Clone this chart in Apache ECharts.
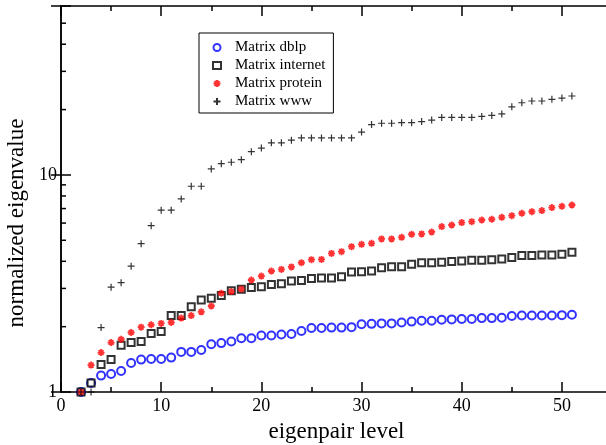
<!DOCTYPE html>
<html>
<head>
<meta charset="utf-8">
<script src="https://cdn.jsdelivr.net/npm/echarts@6/dist/echarts.min.js"></script>
<style>
  html, body { margin: 0; padding: 0; background: #fff; }
  #chart { width: 606px; height: 445px; }
</style>
</head>
<body>
<div id="chart"></div>
<script>
// eigenpair levels
var levels = [2,3,4,5,6,7,8,9,10,11,12,13,14,15,16,17,18,19,20,21,22,23,24,25,26,
    27,28,29,30,31,32,33,34,35,36,37,38,39,40,41,42,43,44,45,46,47,48,49,50,51];

var dblp = [1.00,1.10,1.19,1.21,1.25,1.36,1.41,1.42,1.42,1.44,1.53,1.53,1.56,1.66,1.68,1.71,
    1.77,1.77,1.82,1.82,1.84,1.85,1.91,1.97,1.97,1.98,1.98,1.99,2.05,2.06,2.07,2.07,2.09,
    2.11,2.13,2.13,2.15,2.16,2.17,2.17,2.19,2.19,2.20,2.24,2.25,2.25,2.25,2.25,2.26,2.27];

var internet = [1.00,1.10,1.34,1.41,1.64,1.69,1.71,1.86,1.90,2.25,2.25,2.47,2.65,2.70,2.78,
    2.93,2.97,3.03,3.05,3.13,3.15,3.25,3.26,3.33,3.35,3.35,3.40,3.57,3.58,3.61,3.74,3.78,
    3.78,3.88,3.94,3.94,3.96,3.99,4.01,4.04,4.04,4.07,4.10,4.17,4.25,4.25,4.28,4.28,4.31,4.40];

var protein = [1.00,1.33,1.52,1.69,1.75,1.88,1.99,2.04,2.07,2.09,2.19,2.25,2.34,2.49,2.85,
    2.90,2.98,3.28,3.42,3.61,3.67,3.77,3.94,4.07,4.08,4.35,4.43,4.67,4.79,4.84,5.07,5.07,
    5.16,5.33,5.35,5.46,5.78,5.88,6.03,6.09,6.20,6.25,6.38,6.49,6.66,6.77,6.85,7.07,7.17,7.27];

var www = [1.00,1.00,1.98,3.04,3.19,3.80,4.82,5.84,6.88,6.88,7.75,8.87,8.87,10.66,11.27,
    11.44,11.76,12.8,13.3,14.05,14.05,14.45,14.8,14.8,14.8,14.8,14.8,14.8,15.75,17.05,17.3,
    17.3,17.4,17.4,17.6,17.9,18.4,18.4,18.4,18.4,18.6,18.8,19.1,20.6,21.5,21.9,21.9,22.3,22.6,23.1];

// axis ticks
var xMin = 0, xMax = 55;
var yMin = 1, yMax = 60;
var yMinorTicks = [2,3,4,5,6,7,8,9,20,30,40,50];

function pairs(ys) {
    var out = [];
    for (var i = 0; i < levels.length; i++) {
        out.push([levels[i], ys[i]]);
    }
    return out;
}

var serif = 'Liberation Serif';
var plusPath = 'path://M0,-1L0,1M-1,0L1,0';
var starPath = 'path://M0,-1L0,1M-1,0L1,0M-0.7,-0.7L0.7,0.7M-0.7,0.7L0.7,-0.7';

var myChart = echarts.init(document.getElementById('chart'));
var option = {
    animation: false,
    backgroundColor: '#fff',
    grid: {left: 61, right: -6, top: 6, bottom: 53, outerBoundsMode: 'none', containLabel: false},
    legend: {
        orient: 'vertical',
        left: 199,
        top: 33,
        data: ['Matrix dblp', 'Matrix internet', 'Matrix protein', 'Matrix www'],
        borderColor: '#000',
        borderWidth: 1,
        padding: [7, 8, 4, 13],
        itemGap: 3,
        itemWidth: 8,
        itemHeight: 7,
        textStyle: {fontFamily: serif, fontSize: 15, color: '#000', lineHeight: 15, padding: [0, 0, 0, 9]}
    },
    xAxis: [
        {
            type: 'value', min: xMin, max: xMax, interval: 10, position: 'bottom',
            name: 'eigenpair level', nameLocation: 'middle', nameGap: 28,
            nameTextStyle: {fontFamily: serif, fontSize: 23, color: '#000'},
            axisLine: {lineStyle: {color: '#000', width: 1.5}},
            axisTick: {inside: true, length: 10, lineStyle: {color: '#000', width: 1.5}},
            axisLabel: {
                fontFamily: serif, fontSize: 18, color: '#000', margin: 5,
                formatter: function (v) { return v % 10 === 0 ? String(v) : ''; }
            },
            splitLine: {show: false}
        },
        {
            type: 'value', min: xMin, max: xMax, interval: 5, position: 'bottom',
            axisLine: {show: false},
            axisTick: {inside: true, length: 5, lineStyle: {color: '#000', width: 1.5}},
            axisLabel: {show: false},
            splitLine: {show: false}
        },
        {
            type: 'value', min: xMin, max: xMax, interval: 10, position: 'top',
            axisLine: {lineStyle: {color: '#000', width: 1.5}},
            axisTick: {inside: true, length: 10, lineStyle: {color: '#000', width: 1.5}},
            axisLabel: {show: false},
            splitLine: {show: false}
        },
        {
            type: 'value', min: xMin, max: xMax, interval: 5, position: 'top',
            axisLine: {show: false},
            axisTick: {inside: true, length: 5, lineStyle: {color: '#000', width: 1.5}},
            axisLabel: {show: false},
            splitLine: {show: false}
        }
    ],
    yAxis: [
        {
            type: 'log', min: yMin, max: yMax, position: 'left',
            name: 'normalized eigenvalue', nameLocation: 'middle', nameGap: 33,
            nameTextStyle: {fontFamily: serif, fontSize: 23, color: '#000', padding: [0, 48, 0, 0]},
            axisLine: {show: true, lineStyle: {color: '#000', width: 1.5}},
            axisTick: {show: true, inside: true, length: 10, lineStyle: {color: '#000', width: 1.5}},
            axisLabel: {
                fontFamily: serif, fontSize: 18, color: '#000', margin: 4,
                formatter: function (v) { return (v === 1 || v === 10) ? String(v) : ''; }
            },
            splitLine: {show: false}
        },
        {
            type: 'log', min: yMin, max: yMax, position: 'right',
            axisLine: {show: true, lineStyle: {color: '#000', width: 1.5}},
            axisTick: {show: true, inside: true, length: 10, lineStyle: {color: '#000', width: 1.5}},
            axisLabel: {show: false},
            splitLine: {show: false}
        }
    ],
    series: [
        {
            name: 'yMinorTicks',
            type: 'custom',
            silent: true,
            clip: false,
            data: yMinorTicks.map(function (v) { return [xMin, v]; }),
            renderItem: function (params, api) {
                var l = api.coord([xMin, api.value(1)]);
                var r = api.coord([xMax, api.value(1)]);
                var st = {stroke: '#000', lineWidth: 1.5};
                return {
                    type: 'group',
                    children: [
                        {type: 'line', shape: {x1: l[0], y1: l[1], x2: l[0] + 5, y2: l[1]}, style: st},
                        {type: 'line', shape: {x1: r[0] - 5, y1: r[1], x2: r[0], y2: r[1]}, style: st}
                    ]
                };
            }
        },
        {
            name: 'Matrix dblp',
            type: 'scatter',
            symbol: 'emptyCircle',
            symbolSize: 8,
            itemStyle: {color: '#0000ff', borderColor: '#0000ff', borderWidth: 1.2},
            data: pairs(dblp)
        },
        {
            name: 'Matrix internet',
            type: 'scatter',
            symbol: 'emptyRect',
            symbolSize: 7,
            itemStyle: {color: '#000', borderColor: '#000', borderWidth: 1.2},
            data: pairs(internet)
        },
        {
            name: 'Matrix protein',
            type: 'scatter',
            symbol: starPath,
            symbolSize: 7,
            itemStyle: {color: '#ff0000', borderColor: '#ff0000', borderWidth: 1.8},
            data: pairs(protein)
        },
        {
            name: 'Matrix www',
            type: 'scatter',
            symbol: plusPath,
            symbolSize: 7,
            itemStyle: {color: '#000', borderColor: '#000', borderWidth: 1.2},
            data: pairs(www)
        }
    ]
};
myChart.setOption(option);
</script>
</body>
</html>
